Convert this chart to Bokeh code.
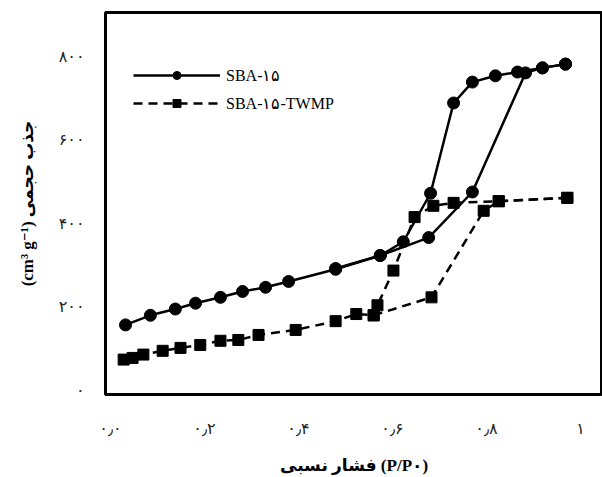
from bokeh.plotting import figure
from bokeh.models import FixedTicker, Legend, LegendItem, Range1d
from bokeh.embed import file_html
from bokeh.resources import INLINE

# ---- data ----
sba_ads_x = [0.032, 0.085, 0.138, 0.181, 0.234, 0.281, 0.330, 0.379, 0.479, 0.574, 0.677, 0.770, 0.883, 0.919, 0.968]
sba_ads_y = [157, 180, 195, 209, 223, 237, 247, 261, 290, 323, 366, 475, 760, 772, 781]
sba_des_x = [0.968, 0.919, 0.866, 0.819, 0.770, 0.730, 0.681, 0.623, 0.574, 0.479]
sba_des_y = [781, 772, 762, 753, 738, 688, 472, 356, 323, 292]

tw_ads_x = [0.028, 0.047, 0.070, 0.111, 0.149, 0.191, 0.234, 0.272, 0.315, 0.394, 0.479, 0.523, 0.560, 0.683, 0.794, 0.826, 0.972]
tw_ads_y = [74, 78, 86, 95, 102, 109, 119, 121, 133, 145, 166, 183, 180, 223, 430, 453, 461]
tw_des_x = [0.972, 0.826, 0.730, 0.687, 0.647, 0.602, 0.568, 0.560]
tw_des_y = [461, 453, 449, 442, 415, 287, 204, 180]

series_names = ["SBA-۱۵", "SBA-۱۵-TWMP"]

x_ticks = [0.0, 0.2, 0.4, 0.6, 0.8, 1.0]
x_tick_labels = ["۰٫۰", "۰٫۲", "۰٫۴", "۰٫۶", "۰٫۸", "۱"]
y_ticks = [0, 200, 400, 600, 800]
y_tick_labels = ["۰", "۲۰۰", "۴۰۰", "۶۰۰", "۸۰۰"]

x_title = "فشار نسبی (P/P۰)"
y_title = "(cm³ g⁻¹) جذب حجمی"

# ---- figure ----
p = figure(width=602, height=477, output_backend="svg", toolbar_location=None,
           x_range=Range1d(-0.0106, 1.0468), y_range=Range1d(-9.5, 904.5),
           min_border_left=105, min_border_top=12, min_border_right=0, min_border_bottom=80)
p.background_fill_color = "white"
p.border_fill_color = "white"
p.outline_line_color = "black"
p.outline_line_width = 3
p.grid.visible = False

for ax in (p.xaxis, p.yaxis):
    ax.axis_line_color = None
    ax.major_tick_line_color = None
    ax.minor_tick_line_color = None
    ax.major_label_text_font = "DejaVu Sans"
    ax.major_label_text_font_size = "16px"
    ax.major_label_text_color = "#222222"
    ax.axis_label_text_font = "Liberation Serif, DejaVu Sans"
    ax.axis_label_text_font_style = "bold"
    ax.axis_label_text_color = "black"

p.xaxis.axis_label_text_font_size = "17px"
p.yaxis.axis_label_text_font_size = "17px"
p.xaxis.ticker = FixedTicker(ticks=x_ticks)
p.xaxis.major_label_overrides = {t: l for t, l in zip(x_ticks, x_tick_labels)}
p.yaxis.ticker = FixedTicker(ticks=y_ticks)
p.yaxis.major_label_overrides = {t: l for t, l in zip(y_ticks, y_tick_labels)}
p.xaxis.major_label_standoff = 18
p.yaxis.major_label_standoff = 15
p.xaxis.axis_label_standoff = 15
p.yaxis.axis_label_standoff = 19
p.xaxis.axis_label = x_title
p.yaxis.axis_label = y_title

lw = 2.5
dash = "9 6"

l1 = p.line(sba_ads_x, sba_ads_y, line_color="black", line_width=lw)
s1 = p.scatter(sba_ads_x, sba_ads_y, marker="circle", size=12, fill_color="black", line_color="black")
p.line(sba_des_x, sba_des_y, line_color="black", line_width=lw)
p.scatter(sba_des_x, sba_des_y, marker="circle", size=12, fill_color="black", line_color="black")

l2 = p.line(tw_ads_x, tw_ads_y, line_color="black", line_width=lw, line_dash=dash)
s2 = p.scatter(tw_ads_x, tw_ads_y, marker="square", size=11, fill_color="black", line_color="black")
p.line(tw_des_x, tw_des_y, line_color="black", line_width=lw, line_dash=dash)
p.scatter(tw_des_x, tw_des_y, marker="square", size=11, fill_color="black", line_color="black")

legend = Legend(items=[LegendItem(label=series_names[0], renderers=[l1, s1]),
                       LegendItem(label=series_names[1], renderers=[l2, s2])],
                location=(28, 281), orientation="vertical")
legend.glyph_width = 87
legend.glyph_height = 20
legend.label_height = 20
legend.label_standoff = 6
legend.spacing = 8
legend.padding = 0
legend.margin = 0
legend.border_line_color = None
legend.background_fill_alpha = 0
legend.label_text_font = "Liberation Serif"
legend.label_text_font_size = "16px"
legend.label_text_color = "black"
p.add_layout(legend, "center")

open("out.html", "w").write(file_html(p, INLINE))
